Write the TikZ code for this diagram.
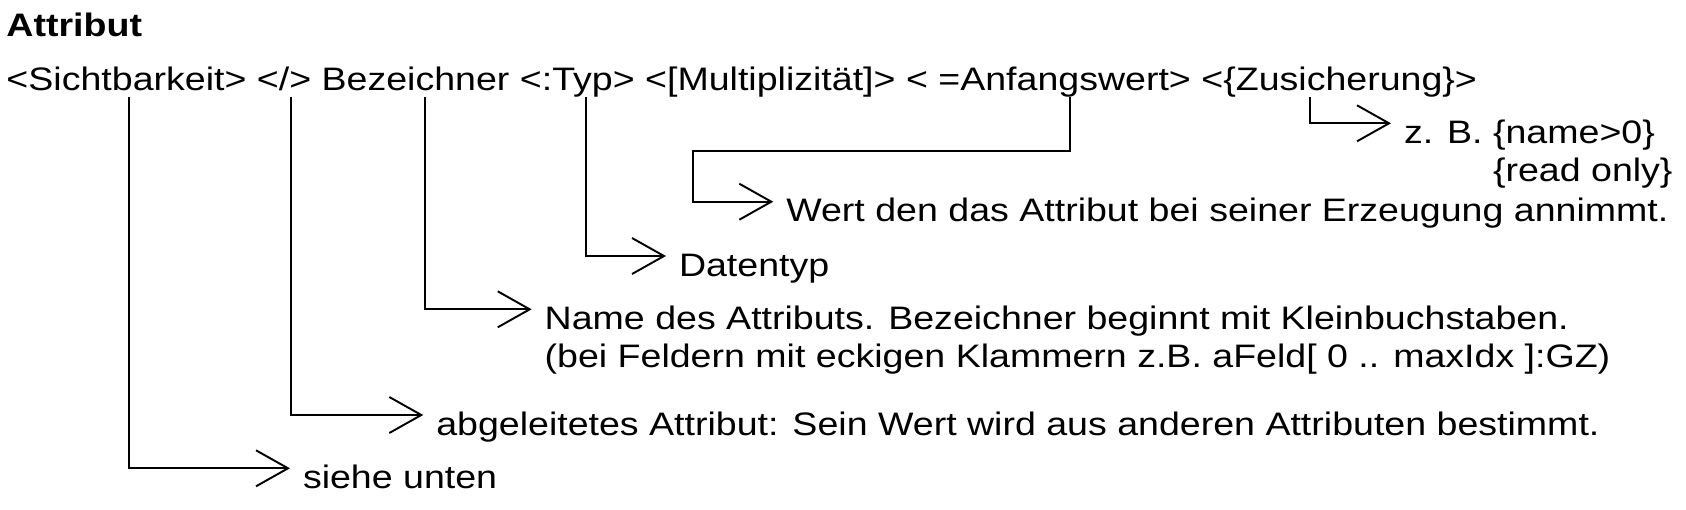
\documentclass[tikz,border=0pt]{standalone}
\usepackage{fontspec}
\setmainfont{Liberation Sans}[FakeStretch=1.155]
\usepackage{xcolor}
\usepackage{tikz}
\usetikzlibrary{arrows.meta}

\begin{document}
\begin{tikzpicture}[every node/.style={font=\fontsize{18.5}{21.6}\selectfont, inner sep=0pt, outer sep=0pt},
    pfeil/.style={-{Straight Barb[length=6.4mm, width=7.2mm]}, line width=1.1pt},
    erkl/.style={anchor=base west, inner xsep=2.6mm}]
    \useasboundingbox (0,0) rectangle (33.72,-10.18);
    % Ueberschrift und Kopfzeile
    \node[anchor=base west, font=\fontsize{18.5}{21.6}\selectfont\bfseries] (titel) at (0.13,-0.734) {Attribut};
    \node[anchor=base west] (kopf) at (0.13,-1.80) {<Sichtbarkeit> </> Bezeichner <:Typ> <[Multiplizität]> < =Anfangswert> <\{Zusicherung\}>};
    % Ansatzpunkte unter der Kopfzeile
    \coordinate (kSicht) at (2.586,-1.94);
    \coordinate (kAbl) at (5.814,-1.94);
    \coordinate (kName) at (8.50,-1.94);
    \coordinate (kTyp) at (11.72,-1.94);
    \coordinate (kAnf) at (21.40,-1.94);
    \coordinate (kZus) at (26.20,-1.94);
    \coordinate (knick) at (13.866,-3.014);
    % Erklaerungen
    \node[erkl] (zusich) at (27.82,-2.866) {z. B. \{name>0\}};
    \node[erkl] (zusich2) at ([yshift=-7.62mm]zusich.base west) {\phantom{z. B. }\{read only\}};
    \node[erkl] (wert) at (15.466,-4.434) {Wert den das Attribut bei seiner Erzeugung annimmt.};
    \node[erkl] (typ) at (13.32,-5.52) {Datentyp};
    \node[erkl] (name) at (10.634,-6.586) {Name des Attributs. Bezeichner beginnt mit Kleinbuchstaben.};
    \node[erkl] (name2) at ([yshift=-7.62mm]name.base west) {(bei Feldern mit eckigen Klammern z.B. aFeld[ 0 .. maxIdx ]:GZ)};
    \node[erkl] (abgel) at (8.466,-8.70) {abgeleitetes Attribut: Sein Wert wird aus anderen Attributen bestimmt.};
    \node[erkl] (siehe) at (5.80,-9.766) {siehe unten};
    % Pfeile
    \draw[pfeil] (kZus) |- ([yshift=4mm]zusich.base west);
    \draw[pfeil] (kAnf) |- (knick) |- ([yshift=4mm]wert.base west);
    \draw[pfeil] (kTyp) |- ([yshift=4mm]typ.base west);
    \draw[pfeil] (kName) |- ([yshift=4mm]name.base west);
    \draw[pfeil] (kAbl) |- ([yshift=4mm]abgel.base west);
    \draw[pfeil] (kSicht) |- ([yshift=4mm]siehe.base west);
\end{tikzpicture}
\end{document}
